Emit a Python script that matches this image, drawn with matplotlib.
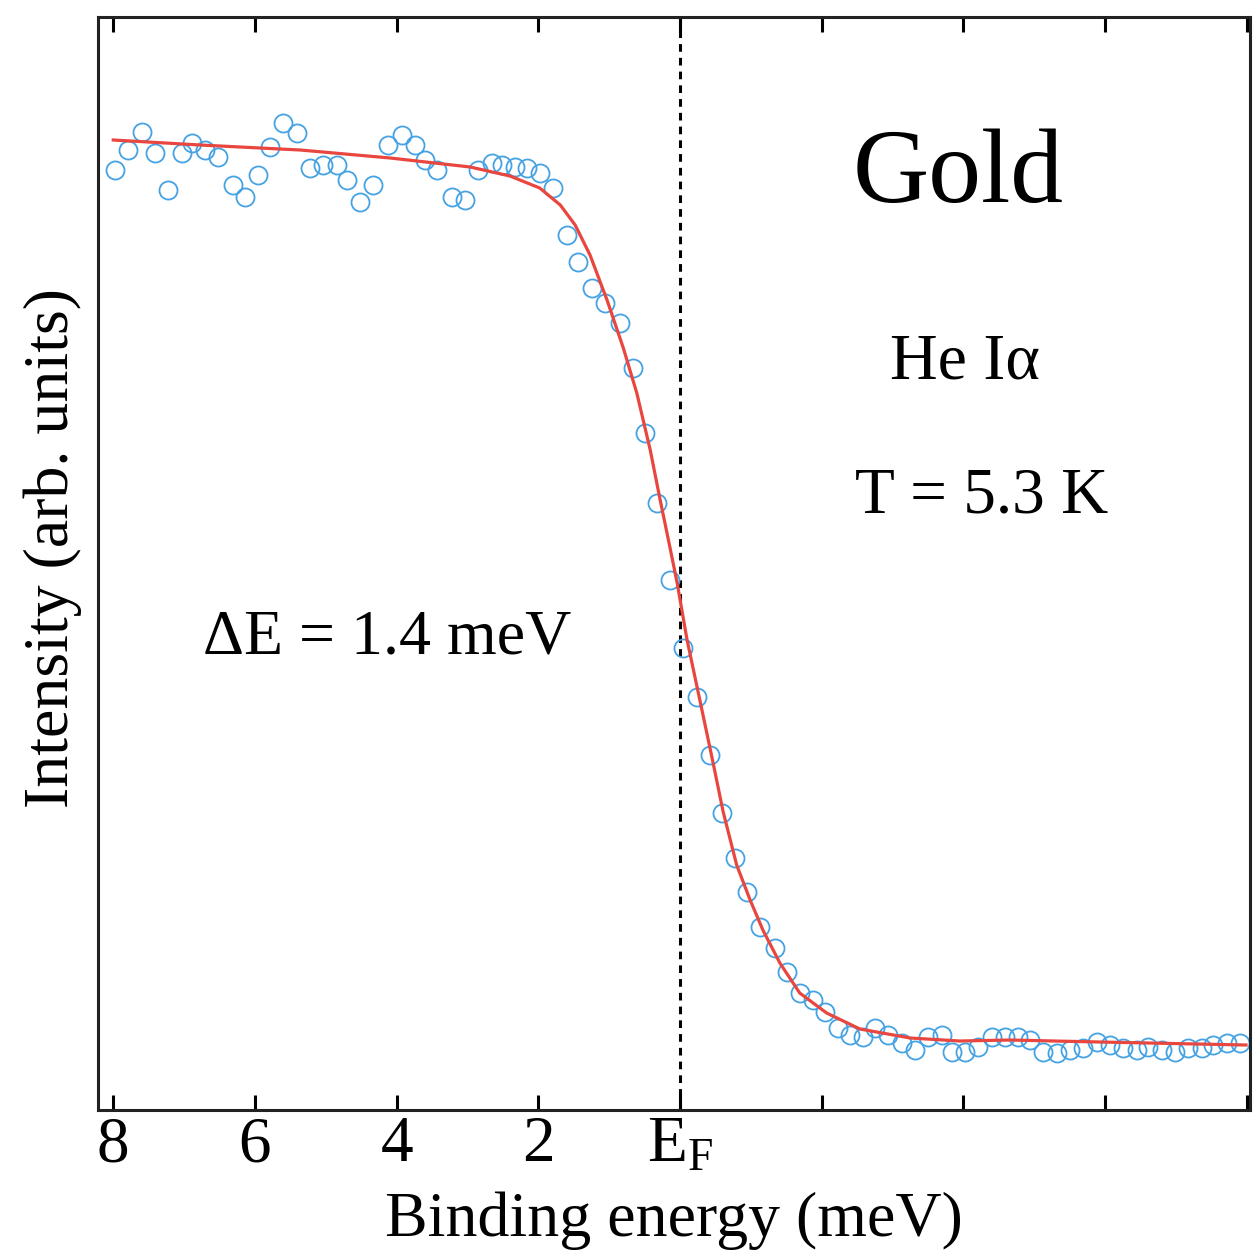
import matplotlib
matplotlib.use("Agg")
import matplotlib.pyplot as plt

plt.rcParams['font.family'] = ['Liberation Serif', 'DejaVu Serif']
plt.rcParams['mathtext.fontset'] = 'custom'
plt.rcParams['mathtext.rm'] = 'Liberation Serif'
plt.rcParams['mathtext.it'] = 'Liberation Serif'

# Measured data (binding energy in meV, intensity arb. units)
energy = [7.97, 7.79, 7.59, 7.41, 7.23, 7.03, 6.89, 6.70, 6.52, 6.31, 6.14, 5.96,
          5.79, 5.60, 5.41, 5.22, 5.04, 4.84, 4.70, 4.52, 4.33, 4.12, 3.92, 3.74,
          3.60, 3.43, 3.22, 3.03, 2.85, 2.65, 2.51, 2.33, 2.16, 1.98, 1.79, 1.59,
          1.44, 1.24, 1.06, 0.85, 0.66, 0.49, 0.32, 0.14, -0.04, -0.24, -0.42,
          -0.59, -0.78, -0.95, -1.13, -1.34, -1.51, -1.69, -1.88, -2.05, -2.23,
          -2.40, -2.58, -2.75, -2.94, -3.13, -3.32, -3.50, -3.70, -3.84, -4.02,
          -4.21, -4.40, -4.59, -4.77, -4.94, -5.12, -5.32, -5.50, -5.69, -5.89,
          -6.07, -6.25, -6.45, -6.61, -6.80, -6.99, -7.17, -7.37, -7.52, -7.72, -7.90]
intensity = [0.940, 0.960, 0.978, 0.957, 0.920, 0.957, 0.967, 0.960, 0.953, 0.925,
             0.913, 0.935, 0.963, 0.987, 0.977, 0.942, 0.945, 0.945, 0.930, 0.908,
             0.925, 0.965, 0.975, 0.965, 0.950, 0.940, 0.913, 0.910, 0.940, 0.947,
             0.945, 0.943, 0.942, 0.937, 0.922, 0.875, 0.848, 0.822, 0.807, 0.787,
             0.742, 0.677, 0.607, 0.530, 0.462, 0.413, 0.355, 0.297, 0.252, 0.218,
             0.183, 0.162, 0.138, 0.117, 0.110, 0.098, 0.082, 0.075, 0.073, 0.082,
             0.075, 0.067, 0.060, 0.073, 0.075, 0.058, 0.058, 0.063, 0.073, 0.073,
             0.073, 0.070, 0.058, 0.057, 0.060, 0.062, 0.068, 0.065, 0.062, 0.060,
             0.063, 0.060, 0.058, 0.062, 0.062, 0.065, 0.067, 0.067]

# Fit curve
fit_energy = [8.00, 6.77, 5.36, 4.09, 2.96, 2.40, 1.98, 1.69, 1.48, 1.27, 1.03, 0.80,
              0.61, 0.42, 0.28, 0.14, 0.04, -0.10, -0.28, -0.45, -0.61, -0.80, -0.99,
              -1.17, -1.41, -1.69, -2.07, -2.54, -3.25, -3.95, -4.66, -5.93, -7.99]
fit_intensity = [0.970, 0.965, 0.960, 0.952, 0.943, 0.934, 0.922, 0.905, 0.885, 0.855,
                 0.810, 0.762, 0.717, 0.660, 0.610, 0.562, 0.527, 0.470, 0.410, 0.353,
                 0.298, 0.245, 0.210, 0.180, 0.147, 0.117, 0.097, 0.081, 0.072, 0.069,
                 0.070, 0.068, 0.065]

tick_pos = [8, 6, 4, 2, 0, -2, -4, -6, -8]
tick_labels = ['8', '6', '4', '2', r'$\mathregular{E_F}$', '', '', '', '']

fig = plt.figure(figsize=(12.6, 12.51), dpi=100)
ax = fig.add_axes([0.0778, 0.1127, 0.9142, 0.8737])

ax.axvline(0, color='black', linestyle=(0, (2.5, 2.0)), linewidth=2.2, zorder=1)
ax.plot(energy, intensity, linestyle='none', marker='o', markersize=13,
        markerfacecolor='none', markeredgecolor='#45a2e3', markeredgewidth=1.3, zorder=2)
ax.plot(fit_energy, fit_intensity, color='#e8463f', linewidth=2.3, zorder=3)

ax.set_xlim(8.215, -8.045)
ax.set_ylim(0, 1.093)
ax.set_xticks(tick_pos)
ax.set_xticklabels(tick_labels, fontsize=47)
ax.set_yticks([])
ax.tick_params(axis='x', direction='in', top=True, bottom=True, length=11, width=2.2, pad=4)
for s in ax.spines.values():
    s.set_linewidth(2.2)
    s.set_color('#222222')

ax.set_xlabel('Binding energy (meV)', fontsize=46, labelpad=12)
ax.set_ylabel('Intensity (arb. units)', fontsize=46)
ax.yaxis.set_label_coords(-0.014, 0.514)

ax.text(-2.43, 0.908, 'Gold', fontsize=76, ha='left', va='baseline')
ax.text(-2.96, 0.732, 'He I\u03b1', fontsize=47.5, ha='left', va='baseline')
ax.text(-2.47, 0.598, 'T = 5.3 K', fontsize=47, ha='left', va='baseline')
ax.text(6.73, 0.457, '\u0394E = 1.4 meV', fontsize=46, ha='left', va='baseline')

fig.savefig('out.png', dpi=100)
